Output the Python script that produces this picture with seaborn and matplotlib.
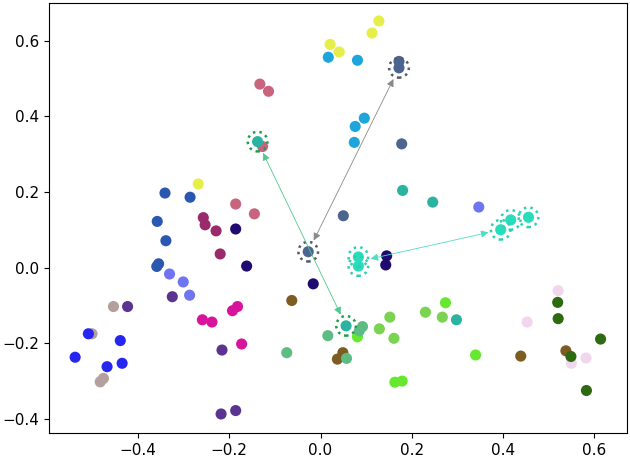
import pandas as pd
import matplotlib
matplotlib.use("Agg")
import matplotlib.pyplot as plt
import seaborn as sns

# grupos de pontos
grupos = ["amarelo", "ciano", "ardosia", "rosa", "teal", "royal", "lavanda", "marinho",
          "vinho", "magenta", "roxo", "taupe", "azul", "marrom", "lima", "verde",
          "menta", "turquesa", "rosa_claro", "verde_escuro"]
cores = ["#e6ee48", "#1ea6dc", "#4b6590", "#c8647e", "#2ab3a0", "#2a58b0", "#6f74f0", "#1e0a70",
         "#9a2a6c", "#d8149c", "#5a3490", "#b49e9e", "#2626f0", "#7c5c20", "#66e830",
         "#7ad452", "#5cbc84", "#28dcbc", "#f2d6ee", "#2e6a12"]
x_vals = [
    [-0.268, 0.128, 0.113, 0.021, 0.041],
    [0.017, 0.081, 0.096, 0.076, 0.074],
    [0.172, 0.172, 0.178, 0.050, -0.027],
    [-0.133, -0.114, -0.127, -0.186, -0.145],
    [-0.138, 0.180, 0.246, 0.298, 0.056],
    [-0.341, -0.286, -0.358, -0.339, -0.355, -0.359],
    [-0.331, -0.301, -0.287, 0.347],
    [-0.186, -0.162, -0.016, 0.145, 0.143],
    [-0.257, -0.253, -0.229, -0.220],
    [-0.259, -0.238, -0.193, -0.182, -0.173],
    [-0.325, -0.423, -0.216, -0.218, -0.186],
    [-0.454, -0.501, -0.483, -0.476],
    [-0.509, -0.439, -0.538, -0.468, -0.435],
    [-0.063, 0.049, 0.037, 0.439, 0.538],
    [0.274, 0.081, 0.163, 0.179, 0.340],
    [0.230, 0.267, 0.152, 0.129, 0.161],
    [0.092, 0.085, 0.016, -0.074, 0.057],
    [0.083, 0.083, 0.395, 0.417, 0.456],
    [0.521, 0.453, 0.582, 0.550],
    [0.520, 0.521, 0.614, 0.549, 0.583],
]
y_vals = [
    [0.221, 0.652, 0.620, 0.590, 0.570],
    [0.556, 0.548, 0.395, 0.373, 0.331],
    [0.545, 0.528, 0.327, 0.137, 0.042],
    [0.485, 0.466, 0.320, 0.168, 0.142],
    [0.333, 0.204, 0.173, -0.138, -0.154],
    [0.197, 0.186, 0.122, 0.071, 0.010, 0.003],
    [-0.017, -0.038, -0.073, 0.160],
    [0.102, 0.004, -0.043, 0.031, 0.007],
    [0.132, 0.113, 0.097, 0.036],
    [-0.138, -0.144, -0.114, -0.103, -0.202],
    [-0.077, -0.103, -0.218, -0.387, -0.378],
    [-0.103, -0.175, -0.302, -0.293],
    [-0.175, -0.193, -0.237, -0.262, -0.253],
    [-0.087, -0.225, -0.242, -0.234, -0.220],
    [-0.093, -0.183, -0.303, -0.300, -0.231],
    [-0.118, -0.131, -0.131, -0.162, -0.187],
    [-0.156, -0.167, -0.180, -0.225, -0.240],
    [0.028, 0.004, 0.100, 0.126, 0.133],
    [-0.061, -0.144, -0.239, -0.253],
    [-0.092, -0.135, -0.189, -0.235, -0.325],
]

# pontos destacados (grupo, indice)
destaques = [("ardosia", 1), ("ardosia", 4), ("teal", 0), ("teal", 4),
             ("turquesa", 0), ("turquesa", 1), ("turquesa", 2), ("turquesa", 3), ("turquesa", 4)]
cor_anel = {"ardosia": "#555b66", "teal": "#1f9e4a", "turquesa": "#2ad0b4"}

# setas: (x0, y0, x1, y1, cor)
setas_x0 = [0.172, -0.138, 0.083]
setas_y0 = [0.528, 0.333, 0.016]
setas_x1 = [-0.027, 0.056, 0.395]
setas_y1 = [0.042, -0.154, 0.100]
setas_cor = ["#8a8a8a", "#52c890", "#50dcc4"]

linhas = []
for g, xs, ys in zip(grupos, x_vals, y_vals):
    for x, y in zip(xs, ys):
        linhas.append({"grupo": g, "x": x, "y": y})
df = pd.DataFrame(linhas)

fig = plt.figure(figsize=(6.3, 4.62), dpi=100)
ax = fig.add_axes([0.078, 0.063, 0.918, 0.931])

sns.scatterplot(data=df, x="x", y="y", hue="grupo", palette=dict(zip(grupos, cores)),
                s=64, linewidth=0, legend=False, ax=ax)

# aneis pontilhados
for g, i in destaques:
    k = grupos.index(g)
    ax.scatter(x_vals[k][i], y_vals[k][i], s=200, facecolors="none",
               edgecolors=cor_anel[g], linewidths=1.8, linestyles=":", zorder=3)

# setas duplas
for x0, y0, x1, y1, c in zip(setas_x0, setas_y0, setas_x1, setas_y1, setas_cor):
    ax.annotate("", xy=(x1, y1), xytext=(x0, y0),
                arrowprops=dict(arrowstyle="<|-|>", color=c, lw=0.6,
                                mutation_scale=11, shrinkA=9, shrinkB=9))

ax.set_xlim(-0.595, 0.673)
ax.set_ylim(-0.437, 0.700)
ax.set_xticks([-0.4, -0.2, 0.0, 0.2, 0.4, 0.6])
ax.set_yticks([-0.4, -0.2, 0.0, 0.2, 0.4, 0.6])
ax.set_xlabel("")
ax.set_ylabel("")
ax.tick_params(labelsize=11)

plt.savefig("out.png", dpi=100)
